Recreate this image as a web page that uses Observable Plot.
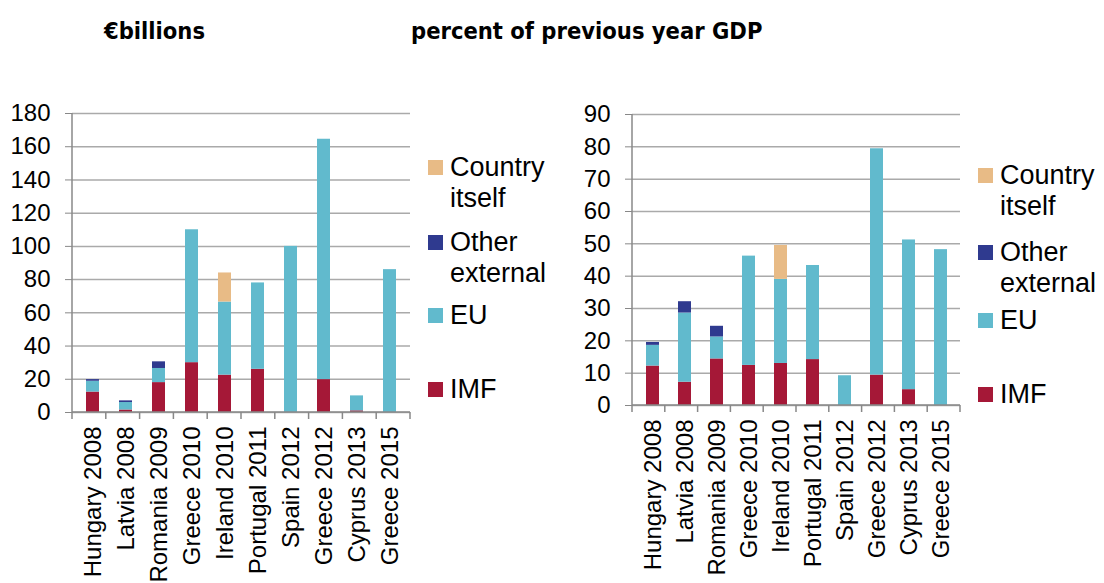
<!DOCTYPE html>
<html><head><meta charset="utf-8">
<script src="https://cdn.jsdelivr.net/npm/d3@7"></script>
<script src="https://cdn.jsdelivr.net/npm/@observablehq/plot@0.6"></script>
<style>
body{margin:0;background:#fff;}
#root{position:relative;width:1104px;height:583px;overflow:hidden;font-family:"Liberation Sans",Arial,sans-serif;}
.title{position:absolute;top:17px;font-family:"DejaVu Sans Condensed","DejaVu Sans",sans-serif;font-stretch:condensed;font-weight:bold;font-size:23.5px;line-height:28px;color:#000;}
.chart{position:absolute;top:60px;}
.leg{position:absolute;font-size:27px;line-height:31px;color:#000;}
.leg .sw{position:absolute;left:0;top:8px;width:15px;height:15px;}
.leg .tx{margin-left:22px;white-space:nowrap;}
</style></head><body><div id="root"></div>
<script>
// ---- data ----
const categories = ["Hungary 2008","Latvia 2008","Romania 2009","Greece 2010","Ireland 2010","Portugal 2011","Spain 2012","Greece 2012","Cyprus 2013","Greece 2015"];
const series = ["IMF","EU","Other external","Country itself"];
const legendLabels = [["Country","itself"],["Other","external"],["EU"],["IMF"]];
const legendKeys = ["Country itself","Other external","EU","IMF"];
const colors = ["#a51837","#61bacd","#2f3a8f","#e8bb86"];

// € billions
const imfBn     = [12.3, 1.5, 18, 30, 22.5, 26, 0, 19.8, 1, 0];
const euBn      = [6.5, 4.5, 8.5, 80, 44, 52, 100, 144.7, 9, 86];
const otherBn   = [1, 1, 4, 0, 0, 0, 0, 0, 0, 0];
const ownBn     = [0, 0, 0, 0, 17.5, 0, 0, 0, 0, 0];
const yTicksBn  = [0,20,40,60,80,100,120,140,160,180];

// percent of previous year GDP
const imfPct    = [12.2, 7.2, 14.4, 12.4, 13, 14.2, 0, 9.4, 4.9, 0];
const euPct     = [6.4, 21.4, 6.8, 33.8, 26, 29.1, 9.2, 70, 46.3, 48.2];
const otherPct  = [0.9, 3.5, 3.3, 0, 0, 0, 0, 0, 0, 0];
const ownPct    = [0, 0, 0, 0, 10.5, 0, 0, 0, 0, 0];
const yTicksPct = [0,10,20,30,40,50,60,70,80,90];

const titles = ["€billions","percent of previous year GDP"];

// ---- helpers ----
function buildRows(cols){
  const rows=[];
  categories.forEach((c,i)=>series.forEach((s,j)=>rows.push({cat:c,src:s,v:cols[j][i]})));
  return rows;
}
function axisFrame(n){
  return (index, scales, values, dims) => {
    const g = d3.create("svg:g").attr("stroke","#888").attr("stroke-width",1.5);
    const x0 = dims.marginLeft, x1 = dims.width - dims.marginRight;
    const y0 = dims.marginTop, yb = dims.height - dims.marginBottom;
    const step = (x1 - x0)/n;
    g.append("line").attr("x1",x0).attr("x2",x0).attr("y1",y0).attr("y2",yb);
    g.append("line").attr("x1",x0).attr("x2",x1).attr("y1",yb).attr("y2",yb);
    for(let i=0;i<=n;i++){
      const x = x0 + i*step;
      g.append("line").attr("x1",x).attr("x2",x).attr("y1",yb).attr("y2",yb+7);
    }
    return g.node();
  };
}
function makeChart(cols, ticks, o){
  const rows = buildRows(cols);
  return Plot.plot({
    width:o.width, height:523,
    marginLeft:72, marginRight:10, marginTop:o.mt, marginBottom:o.mb,
    style:{fontFamily:"'Liberation Sans', Arial, sans-serif", fontSize:"24px", color:"#000", background:"transparent", overflow:"visible"},
    x:{domain:categories, paddingInner:0.6, paddingOuter:0.3, label:null},
    y:{domain:[0, ticks[ticks.length-1]], label:null},
    color:{domain:series, range:colors},
    marks:[
      Plot.ruleY(ticks, {stroke:"#aaa", strokeWidth:1.5}),
      Plot.axisY({ticks:ticks, tickSize:7, tickPadding:15, stroke:"#888", label:null}),
      Plot.barY(rows, Plot.stackY({x:"cat", y:"v", fill:"src"})),
      Plot.axisX({tickSize:0, tickRotate:-90, tickPadding:14, label:null}),
      axisFrame(categories.length)
    ]
  });
}
function legend(root, left, tops){
  legendKeys.forEach((k,i)=>{
    const d = document.createElement("div");
    d.className="leg"; d.style.left=left+"px"; d.style.top=tops[i]+"px";
    const sw = document.createElement("div"); sw.className="sw"; sw.style.background=colors[series.indexOf(k)];
    const tx = document.createElement("div"); tx.className="tx"; tx.innerHTML = legendLabels[i].join("<br>");
    d.appendChild(sw); d.appendChild(tx); root.appendChild(d);
  });
}

// ---- layout ----
const root = document.getElementById("root");
const t1 = document.createElement("div"); t1.className="title"; t1.style.left="104px"; t1.textContent=titles[0]; root.appendChild(t1);
const t2 = document.createElement("div"); t2.className="title"; t2.style.left="411px"; t2.textContent=titles[1]; root.appendChild(t2);

const c1 = makeChart([imfBn,euBn,otherBn,ownBn], yTicksBn, {width:420, mt:53, mb:171});
c1.classList.add("chart"); c1.style.left="0px"; root.appendChild(c1);
const c2 = makeChart([imfPct,euPct,otherPct,ownPct], yTicksPct, {width:410, mt:54, mb:178});
c2.classList.add("chart"); c2.style.left="560px"; root.appendChild(c2);

legend(root, 428, [152,227,300,374]);
legend(root, 978, [160,237,305,379]);
</script>
</body></html>
